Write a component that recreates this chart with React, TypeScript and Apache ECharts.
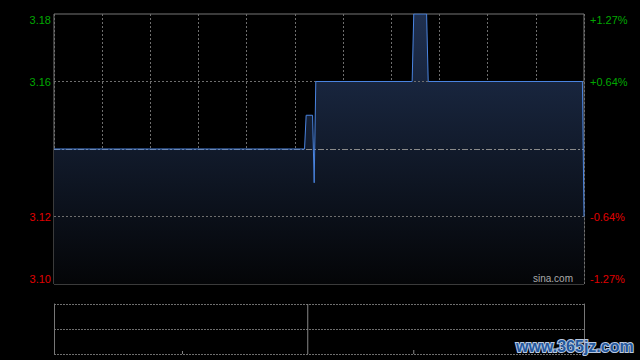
import React, { useEffect, useRef } from "react";
import * as echarts from "echarts";

const minutes = [0, 156, 157, 161, 162, 163, 223, 224, 232, 233, 329, 330];
const prices = [3.14, 3.14, 3.15, 3.15, 3.13, 3.16, 3.16, 3.18, 3.18, 3.16, 3.16, 3.12];
const prevClose = 3.14;
const priceMin = 3.1;
const priceMax = 3.18;
const volMinutes = [80, 158, 224];
const volumes = [4000, 66000, 5300];
const sessionMinutes = 330;

const GREEN = "#00a800";
const RED = "#e00000";
const GRID = "#6e6e6e";
const FONT = "Liberation Sans, Arial, sans-serif";

export default function App() {
  const ref = useRef<HTMLDivElement>(null);
  useEffect(() => {
    if (!ref.current) return;
    const chart = echarts.init(ref.current, null, { renderer: "svg" });
    const isPrev = (v: number) => Math.abs(v - prevClose) < 1e-6;
    const colorOf = (v: any) => (Number(v) > prevClose ? GREEN : RED);
    const priceData = minutes.map((m, i) => [m, prices[i]]);
    chart.setOption({
      animation: false,
      backgroundColor: "#000",
      textStyle: { fontFamily: FONT },
      grid: [
        { left: 54, right: 56, top: 14, height: 270, show: true, borderColor: "#777", borderWidth: 1, backgroundColor: "transparent" },
        { left: 54, right: 56, top: 304, height: 50 },
      ],
      xAxis: [
        {
          type: "value", gridIndex: 0, min: 0, max: sessionMinutes, interval: 30,
          axisLine: { show: false }, axisTick: { show: false }, axisLabel: { show: false },
          splitLine: { show: true, lineStyle: { color: GRID, type: [2, 2], width: 1 } },
        },
        {
          type: "value", gridIndex: 1, min: 0, max: sessionMinutes,
          axisLine: { show: false }, axisTick: { show: false }, axisLabel: { show: false }, splitLine: { show: false },
        },
      ],
      yAxis: [
        {
          type: "value", gridIndex: 0, min: priceMin, max: priceMax, interval: 0.02, position: "left",
          axisLine: { show: false }, axisTick: { show: false }, splitLine: { show: false },
          axisLabel: {
            fontSize: 11, fontFamily: FONT, margin: 3,
            color: colorOf,
            verticalAlignMaxLabel: "top", verticalAlignMinLabel: "bottom",
            formatter: (v: number) => (isPrev(v) ? "" : v.toFixed(2)),
          },
        },
        {
          type: "value", gridIndex: 0, min: priceMin, max: priceMax, interval: 0.02, position: "right",
          axisLine: { show: false }, axisTick: { show: false }, splitLine: { show: false },
          axisLabel: {
            fontSize: 11, fontFamily: FONT, margin: 6,
            color: colorOf,
            verticalAlignMaxLabel: "top", verticalAlignMinLabel: "bottom",
            formatter: (v: number) => {
              if (isPrev(v)) return "";
              const p = ((v - prevClose) / prevClose) * 100;
              return (p > 0 ? "+" : "") + p.toFixed(2) + "%";
            },
          },
        },
        {
          type: "value", gridIndex: 1, min: 0, max: 66000, interval: 33000, position: "left",
          axisLine: { show: true, lineStyle: { color: "#777" } }, axisTick: { show: false }, axisLabel: { show: false },
          splitLine: { show: true, lineStyle: { color: GRID, type: [2, 1], width: 1 } },
        },
        {
          type: "value", gridIndex: 1, min: 0, max: 66000, interval: 33000, position: "right",
          axisLine: { show: true, lineStyle: { color: "#777" } }, axisTick: { show: false }, axisLabel: { show: false },
          splitLine: { show: false },
        },
      ],
      series: [
        {
          type: "line", xAxisIndex: 0, yAxisIndex: 0, z: 1,
          data: priceData,
          showSymbol: false, symbol: "none",
          lineStyle: { width: 0, opacity: 0 },
          areaStyle: {
            opacity: 1,
            color: new echarts.graphic.LinearGradient(0, 0, 0, 1, [
              { offset: 0, color: "#1f3050" },
              { offset: 1, color: "#040507" },
            ]),
          },
          markLine: {
            silent: true, symbol: "none", label: { show: false },
            data: [
              { yAxis: 3.16, lineStyle: { color: GRID, type: [2, 2], width: 1 } },
              { yAxis: 3.12, lineStyle: { color: GRID, type: [2, 2], width: 1 } },
              { yAxis: prevClose, lineStyle: { color: "#8a8a8a", type: [6, 2, 2, 2], width: 1 } },
            ],
          },
        },
        {
          type: "line", xAxisIndex: 0, yAxisIndex: 0, z: 5,
          data: priceData,
          showSymbol: false, symbol: "none",
          lineStyle: { color: "#4a84e0", width: 1 },
        },
        {
          type: "bar", xAxisIndex: 1, yAxisIndex: 2,
          data: volMinutes.map((m, i) => [m, volumes[i]]),
          barWidth: 1,
          itemStyle: { color: "#888" },
        },
      ],
      graphic: [
        {
          type: "text", right: 67, top: 273, z: 100,
          style: { text: "sina.com", fill: "#aaaaaa", font: "10px " + FONT },
        },
        {
          type: "text", left: 515, top: 337, z: 100,
          style: { text: "www.365jz.com", fill: "#24589e", stroke: "#b8c8e0", lineWidth: 2, font: "bold 16px " + FONT },
        },
      ],
    });
    return () => chart.dispose();
  }, []);
  return <div ref={ref} style={{ position: "absolute", left: 0, top: 0, width: 640, height: 360 }} />;
}
